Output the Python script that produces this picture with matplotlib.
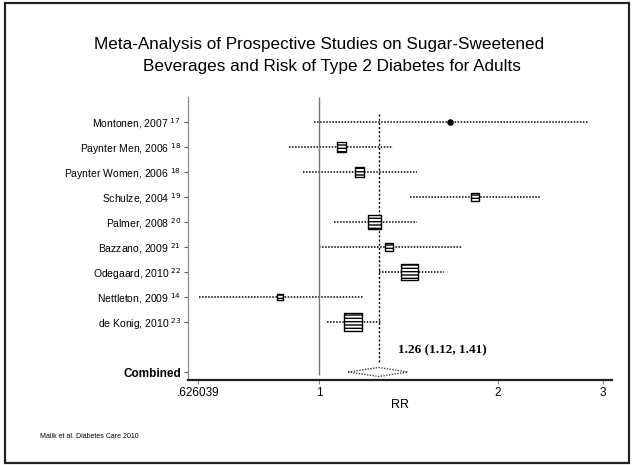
import matplotlib
matplotlib.use('Agg')
import matplotlib.pyplot as plt
from matplotlib.patches import Rectangle, Polygon
import numpy as np

plt.rcParams['font.family'] = ['Liberation Sans', 'DejaVu Sans']

# study estimates (RR, 95% CI)
studies = ["Montonen, 2007", "Paynter Men, 2006", "Paynter Women, 2006", "Schulze, 2004",
           "Palmer, 2008", "Bazzano, 2009", "Odegaard, 2010", "Nettleton, 2009", "de Konig, 2010"]
refs = ["17", "18", "18", "19", "20", "21", "22", "14", "23"]
rr = [1.66, 1.09, 1.17, 1.83, 1.24, 1.31, 1.42, 0.86, 1.14]
ci_low = [0.98, 0.89, 0.94, 1.42, 1.06, 1.00, 1.26, 0.628, 1.03]
ci_high = [2.85, 1.33, 1.46, 2.36, 1.46, 1.74, 1.62, 1.19, 1.27]
weights = [1.0, 4.0, 4.0, 2.5, 8.0, 3.0, 13.0, 1.5, 15.0]

combined_rr = 1.26
combined_low = 1.12
combined_high = 1.41

xticks = [0.626039, 1, 2, 3]
xticklabels = [".626039", "1", "2", "3"]

fig = plt.figure(figsize=(6.32, 4.65), dpi=100)
W, H = 632, 465
ax = fig.add_axes([188 / W, 1 - 380 / H, (612 - 188) / W, (380 - 97) / H])

rows = np.arange(1, len(studies) + 1)
comb_row = 11

# confidence intervals (dotted)
ax.hlines(rows, ci_low, ci_high, colors='black', linestyles=(0, (1, 1)), linewidth=1.1)

# study boxes, area by weight
sizes = [w * 11 for w in weights]
ax.scatter(rr[1:], rows[1:], s=sizes[1:], marker='s', facecolor='white',
           edgecolor='black', linewidth=1.0, hatch='-----', zorder=3)
ax.scatter(rr[:1], rows[:1], s=14, marker='o', color='black', zorder=3)

# reference lines
ax.vlines(1, 0, 11.1, colors='#777777', linewidth=1.0)
ax.vlines(combined_rr, 0.7, 10.6, colors='black', linestyles=(0, (1.5, 1.5)), linewidth=1.0)

# combined diamond
diamond = Polygon([[combined_low, comb_row], [combined_rr, comb_row - 0.18],
                   [combined_high, comb_row], [combined_rr, comb_row + 0.18]],
                  closed=True, fill=False, edgecolor='#444444', linestyle=(0, (1, 1)), linewidth=1.0)
ax.add_patch(diamond)
ax.text(1.61, 10.15, f"{combined_rr:.2f} ({combined_low:.2f}, {combined_high:.2f})",
        family='Liberation Serif', fontweight='bold', fontsize=9.5, ha='center', va='center')

ax.set_xscale('log')
ax.set_xlim(0.602, 3.11)
ax.set_ylim(11.32, 0)
ax.set_xticks(xticks)
ax.set_xticklabels(xticklabels, fontsize=8.5)
ax.minorticks_off()
ax.tick_params(axis='x', length=3, width=0.8, color='#888888', pad=2)

ylabels = [f"{s} $^{{{r}}}$" for s, r in zip(studies, refs)] + ["Combined"]
ax.set_yticks(list(rows) + [comb_row])
ax.set_yticklabels(ylabels, fontsize=7.5)
ax.get_yticklabels()[-1].set_fontweight('bold')
ax.get_yticklabels()[-1].set_fontsize(8.5)
ax.tick_params(axis='y', length=3, width=0.8, color='#666666', pad=2)

ax.set_xlabel("RR", fontsize=9, labelpad=0)

ax.spines['top'].set_visible(False)
ax.spines['right'].set_visible(False)
ax.spines['left'].set_color('#888888')
ax.spines['left'].set_linewidth(0.9)
ax.spines['bottom'].set_color('#222222')
ax.spines['bottom'].set_linewidth(1.6)

fig.text(319 / W, 1 - 45 / H, "Meta-Analysis of Prospective Studies on Sugar-Sweetened",
         ha='center', va='center', fontsize=12.3)
fig.text(332 / W, 1 - 66 / H, "Beverages and Risk of Type 2 Diabetes for Adults",
         ha='center', va='center', fontsize=12.3)
fig.text(40 / W, 1 - 436 / H, "Malik et al. Diabetes Care 2010", ha='left', va='center', fontsize=5)

# scanned slide frame
fig.patches.append(Rectangle((5 / W, 2 / H), (629 - 5) / W, (462 - 2) / H, transform=fig.transFigure,
                             fill=False, edgecolor='#222222', linewidth=1.6))

fig.savefig('out.png', dpi=100)
plt.close(fig)
